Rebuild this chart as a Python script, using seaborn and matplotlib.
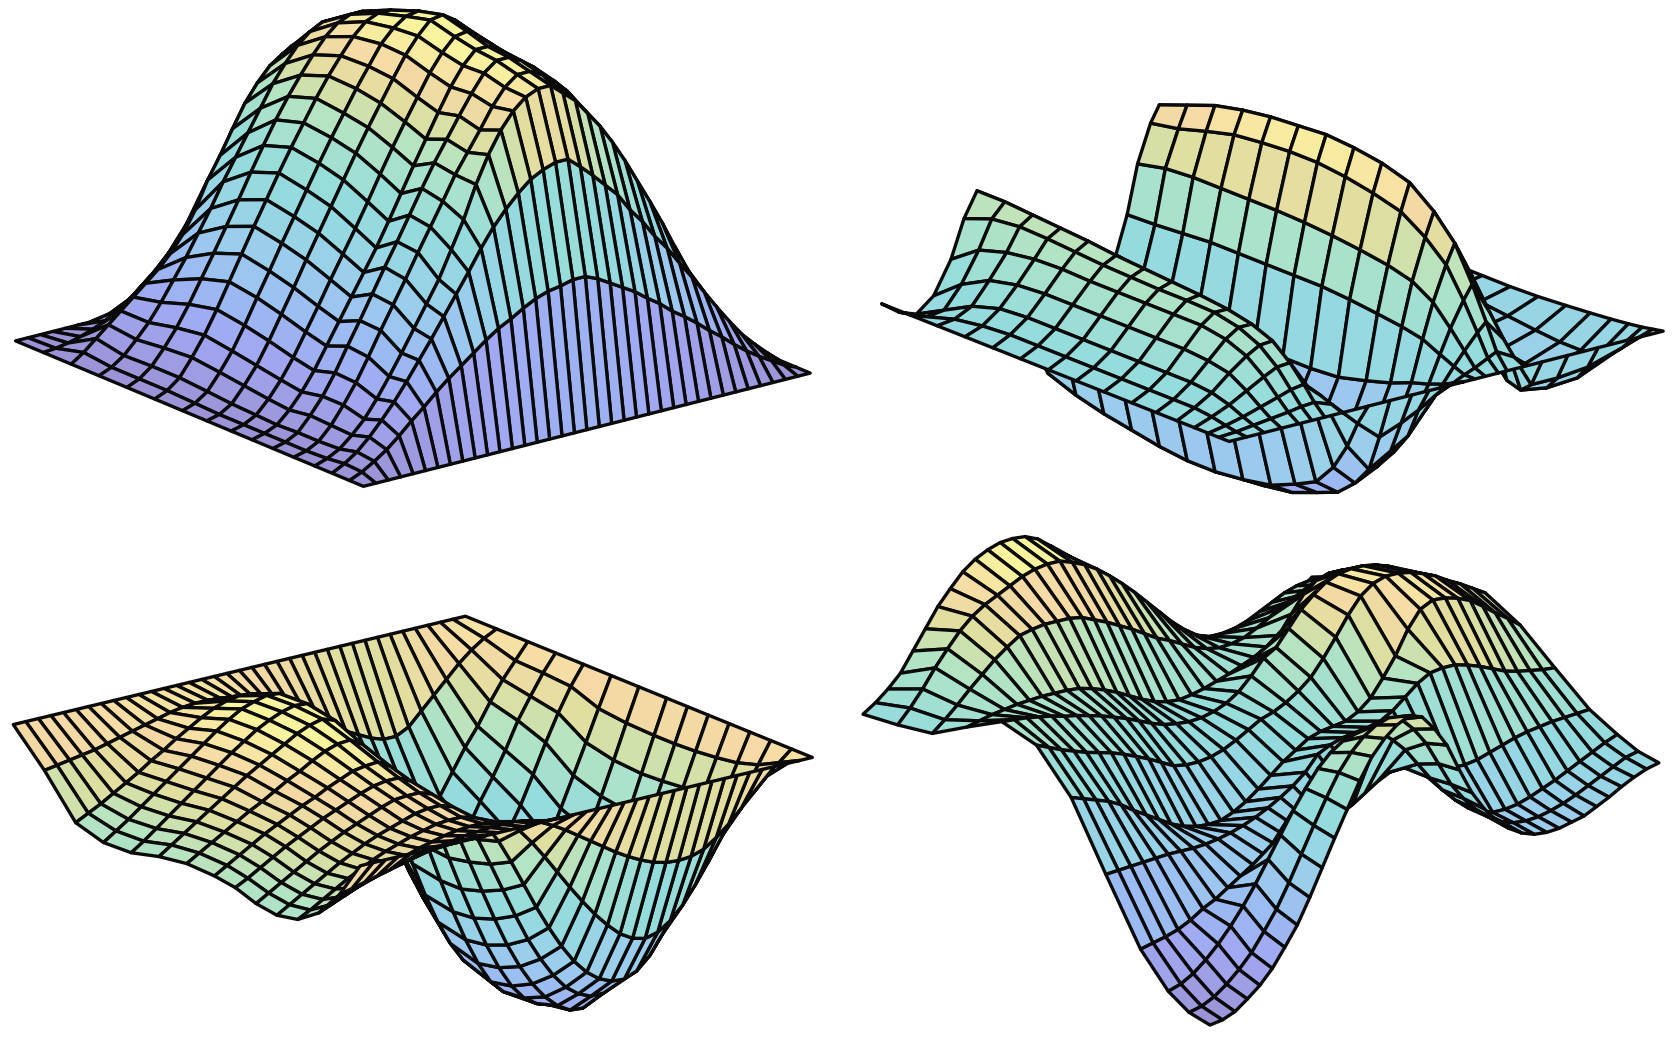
import numpy as np
import matplotlib
matplotlib.use("Agg")
import matplotlib.pyplot as plt
import seaborn as sns
from matplotlib.colors import Normalize
from mpl_toolkits.mplot3d import proj3d

# heights are read off the picture, in screen pixels of the 1568 wide view
# every surface is z[u][v], u runs from the front corner to the left, v to the right
v_36 = [k / 36 for k in range(37)]

u_a = [0, .04, .09, .14, .2, .26, .32, .38, .45, .52, .6, .68, .76, .84, .92, 1]
z_a = [
    [0] * 37,
    [0,5,12,20,30,41,51,62,72,81,90,99,107,113,120,126,130,132,135,135,130,123,116,109,100,92,82,74,65,55,46,36,27,19,12,5,0],
    [0,6,14,25,38,52,68,85,102,120,138,156,175,192,206,218,228,234,238,238,228,217,205,193,176,162,145,131,114,98,81,64,48,33,21,10,0],
    [0,4,10,20,32,48,66,85,105,125,145,170,195,225,250,270,285,295,300,300,290,280,265,250,232,212,190,168,145,120,96,72,50,32,18,8,0],
    [0,3,9,21,37,55,76,98,119,140,162,183,204,226,244,262,281,296,305,305,299,290,278,262,244,223,201,177,152,128,104,82,61,43,24,12,0],
    [0,3,9,22,37,56,78,99,121,143,164,186,208,229,248,267,285,301,310,310,304,295,282,267,248,226,205,180,155,130,105,84,62,43,25,12,0],
    [0,3,8,19,33,50,70,90,110,130,150,172,195,218,240,262,283,300,312,312,306,296,283,268,248,226,205,180,155,130,105,84,62,43,25,12,0],
    [0,3,9,21,36,54,75,96,118,139,160,182,205,227,248,268,288,304,316,318,310,300,286,270,250,228,206,181,156,130,105,84,62,43,25,12,0],
    [0,3,10,24,40,60,82,104,127,149,171,193,215,236,256,276,295,310,322,324,316,305,291,274,254,232,209,184,158,132,107,85,63,44,25,12,0],
    [0,4,12,27,44,65,88,110,133,155,177,199,220,240,260,278,296,308,316,318,312,301,288,272,252,230,207,182,156,131,106,84,62,43,25,12,0],
    [0,5,14,30,48,69,92,115,138,160,182,203,223,243,261,277,292,303,308,308,302,292,279,263,245,224,202,178,153,128,104,82,61,43,25,12,0],
    [0,5,14,28,44,63,84,105,127,149,172,194,215,234,251,267,281,291,296,296,290,280,268,253,236,216,195,172,148,124,100,79,59,41,24,12,0],
    [0,5,13,25,38,54,72,90,110,130,152,172,192,212,232,248,262,272,278,278,272,263,251,237,221,202,182,161,139,116,94,74,55,39,22,11,0],
    [0,8,18,28,38,48,58,68,80,95,115,140,160,182,203,219,232,240,245,245,240,232,221,209,195,178,160,142,122,102,83,65,49,34,20,10,0],
    [0,1,3,6,10,15,22,30,40,50,62,75,90,108,125,145,165,190,205,220,228,232,228,215,198,178,158,136,115,94,74,56,41,28,16,8,0],
    [0] * 37,
]

# this one is typed with one row per v
u_b = [0, .03, .06, .1, .15, .21, .28, .36, .44, .52, .6, .68, .76, .84, .92, 1]
v_b = [0, .04, .08, .12, .16, .19, .22, .26, .32, .37, .42, .46, .5, .54, .566, .59, .62, .64, .68, .72, .78, .85, .93, 1]
z_b_by_v = [
    [0] * 16,
    [0,1,3,6,8,8,8,8,8,8,8,8,6,2,-6,-12],
    [0,3,7,13,18,20,20,20,20,20,20,20,18,10,-4,-18],
    [0,5,12,22,32,36,38,38,38,38,38,38,36,30,16,-5],
    [0,7,17,31,44,52,56,56,56,56,56,57,56,52,44,25],
    [0,9,21,37,51,60,65,66,66,67,68,70,72,73,70,60],
    [0,10,23,38,52,60,65,68,70,72,74,77,79,81,83,83],
    [0,4,8,12,10,5,5,5,5,5,8,10,12,15,18,25],
    [0,-20,-45,-70,-90,-100,-110,-115,-118,-118,-115,-110,-105,-98,-88,-50],
    [0,-38,-72,-90,-105,-113,-122,-126,-128,-126,-122,-115,-110,-102,-90,-55],
    [0,-30,-60,-80,-95,-100,-105,-105,-103,-100,-95,-90,-85,-78,-65,-45],
    [0,-22,-50,-70,-85,-92,-98,-100,-100,-98,-95,-90,-85,-78,-65,-40],
    [0,-12,-30,-45,-58,-68,-75,-80,-80,-78,-72,-65,-58,-50,-35,-30],
    [0,-5,-10,-15,-20,-28,-35,-42,-44,-44,-40,-32,-25,-18,-14,-10],
    [0,0,4,10,18,22,25,28,30,30,30,30,30,28,26,25],
    [0,4,16,32,50,62,68,72,75,77,78,78,78,78,76,70],
    [0,10,30,55,82,100,115,122,127,130,130,128,125,118,110,105],
    [0,14,38,68,100,122,140,148,152,154,152,150,146,140,130,120],
    [0,5,18,38,65,90,112,125,132,136,136,134,130,124,112,100],
    [0,-25,-34,-30,-10,18,45,62,75,85,88,85,80,75,65,50],
    [0,-25,-38,-42,-38,-25,-12,-5,0,5,5,0,-5,-10,-15,-20],
    [0,-22,-36,-42,-45,-42,-38,-32,-28,-25,-25,-25,-25,-25,-25,-25],
    [0,-12,-22,-28,-30,-30,-28,-25,-22,-20,-20,-20,-20,-20,-20,-20],
    [0,-2,-4,-6,-8,-10,-12,-14,-15,-15,-15,-15,-15,-15,-15,-15],
]

u_c = [0, .06, .12, .18, .24, .3, .36, .42, .5, .58, .66, .74, .82, .91, 1]
z_c = [
    [0] * 37,
    [-35,-32,-29,-26,-23,-20,-17,-14,-12,-10,-8,-7,-6,-6,-6,-8,-12,-18,-25,-33,-41,-49,-57,-64,-70,-75,-78,-79,-78,-74,-66,-56,-44,-32,-20,-10,0],
    [-60,-55,-50,-45,-40,-35,-30,-26,-22,-19,-16,-14,-13,-13,-14,-18,-28,-42,-58,-75,-92,-108,-123,-136,-147,-154,-157,-154,-146,-134,-118,-100,-80,-60,-40,-20,0],
    [-74,-68,-61,-54,-47,-41,-35,-30,-26,-22,-19,-16,-15,-15,-18,-28,-46,-68,-92,-116,-138,-158,-175,-188,-197,-202,-203,-198,-187,-170,-150,-128,-104,-78,-52,-26,0],
    [-78,-71,-64,-57,-50,-43,-37,-31,-26,-22,-18,-14,-12,-12,-16,-30,-52,-78,-105,-132,-157,-178,-196,-210,-219,-224,-224,-218,-206,-189,-167,-143,-116,-87,-58,-29,0],
    [-75,-68,-61,-54,-47,-40,-34,-28,-23,-18,-13,-9,-8,-8,-12,-28,-54,-84,-114,-143,-170,-193,-212,-227,-238,-245,-246,-240,-228,-209,-184,-156,-126,-94,-62,-31,0],
    [-68,-62,-55,-48,-41,-35,-29,-23,-18,-13,-8,-4,-2,-2,-8,-26,-55,-88,-120,-150,-178,-202,-222,-236,-244,-248,-248,-243,-232,-213,-188,-159,-128,-96,-64,-32,0],
    [-65,-58,-51,-44,-37,-31,-25,-19,-14,-8,-3,2,4,5,-2,-22,-52,-86,-120,-152,-181,-206,-226,-238,-245,-248,-248,-243,-232,-214,-190,-161,-130,-98,-65,-32,0],
    [-64,-57,-50,-43,-36,-29,-23,-16,-9,-3,4,10,14,15,8,-10,-45,-80,-115,-147,-175,-198,-216,-228,-235,-238,-238,-234,-222,-205,-181,-153,-124,-94,-63,-31,0],
    [-68,-60,-52,-44,-36,-28,-20,-12,-5,2,9,16,21,24,20,6,-20,-50,-82,-112,-140,-165,-187,-205,-215,-220,-220,-215,-203,-187,-165,-140,-113,-85,-57,-28,0],
    [-75,-67,-58,-49,-40,-31,-22,-13,-4,4,12,18,23,26,25,15,-2,-22,-46,-70,-95,-120,-142,-162,-177,-188,-194,-192,-185,-165,-140,-118,-92,-65,-40,-18,0],
    [-76,-68,-60,-51,-42,-33,-24,-15,-6,3,11,18,22,25,24,16,4,-12,-30,-50,-72,-94,-115,-134,-150,-162,-170,-170,-162,-145,-122,-102,-80,-55,-35,-16,0],
    [-68,-62,-56,-49,-42,-35,-27,-20,-12,-5,2,8,12,14,13,8,0,-10,-22,-35,-50,-65,-80,-95,-110,-122,-132,-140,-138,-125,-105,-85,-68,-48,-30,-15,0],
    [-31,-29,-27,-25,-23,-20,-17,-14,-11,-8,-5,-3,-2,-2,-3,-5,-9,-14,-20,-27,-34,-41,-48,-55,-62,-68,-74,-78,-78,-72,-60,-48,-36,-24,-14,-6,0],
    [0] * 37,
]

u_d = [0, .06, .12, .2, .3, .4, .5, .6, .7, .8, .9, 1]
z_d = [
    [-159,-157,-152,-143,-133,-120,-103,-85,-62,-37,-12,12,36,56,70,80,86,82,68,50,24,0,-18,-32,-42,-49,-53,-54,-53,-50,-47,-41,-35,-28,-22,-17,-14],
    [-155,-152,-146,-137,-126,-113,-96,-78,-56,-32,-8,15,36,52,64,72,76,72,60,44,22,0,-16,-29,-39,-46,-50,-51,-50,-47,-43,-38,-32,-26,-20,-14,-11],
    [-143,-139,-132,-122,-110,-96,-80,-62,-42,-22,-2,16,32,44,52,56,56,52,42,30,14,-2,-16,-28,-38,-44,-48,-48,-46,-42,-37,-32,-26,-20,-14,-8,-3],
    [-114,-111,-108,-104,-98,-90,-84,-76,-68,-60,-54,-48,-44,-40,-38,-36,-32,-26,-18,-10,-4,-2,-4,-8,-12,-14,-14,-12,-8,-4,0,3,5,7,8,9,10],
    [-57,-56,-55,-54,-53,-52,-52,-52,-51,-49,-46,-42,-37,-31,-24,-16,-6,8,14,18,20,22,25,32,42,52,59,61,61,58,54,49,44,41,39,37,36],
    [2,-2,-6,-10,-16,-24,-31,-38,-45,-50,-53,-54,-53,-48,-41,-32,-22,-12,-4,4,8,10,12,18,28,44,62,84,100,106,105,102,97,89,80,72,63],
    [38,33,28,24,20,17,14,10,5,0,-6,-12,-14,-14,-12,-8,-2,5,12,16,22,30,40,55,72,90,105,114,118,118,116,112,107,100,94,87,80],
    [47,46,45,43,41,38,36,33,30,26,22,17,12,8,6,5,6,9,14,22,34,48,55,70,85,96,105,110,112,112,110,106,100,94,88,82,75],
    [29,32,35,37,39,40,41,41,41,40,37,33,28,22,16,11,8,7,9,12,16,20,25,30,37,45,62,78,88,92,92,90,84,80,75,70,67],
    [10,20,31,43,54,65,74,82,85,87,87,87,85,80,75,69,63,56,49,44,38,32,28,26,27,30,36,43,50,54,57,59,60,61,61,60,60],
    [5,18,33,50,65,79,90,98,104,110,116,120,122,122,118,113,106,97,87,76,64,52,40,30,22,18,18,20,24,30,36,42,46,48,48,46,44],
    [2,10,20,32,50,68,86,100,113,122,128,132,133,132,127,118,108,98,86,74,61,48,36,24,12,1,-7,-14,-17,-19,-19,-15,-9,2,11,20,30],
]

pastel_stops = ["#9b93d6", "#9f9fe6", "#a0a9f2", "#9cb8f2", "#9cc6f0", "#9ad0ea", "#96d8e2",
                "#95dcdc", "#a4e0d0", "#b4e4c2", "#dfdf9f", "#f6d9a6", "#f8f49e"]

REF_SCALE = 1676 / 1568
FIG_W, FIG_H = 1676, 1054

sns.set_theme(style="white")
cmap = sns.blend_palette(pastel_stops, as_cmap=True)


def place_panel(ax, front, right_x):
    # scale and move the axes so the front corner lands on the wanted spot
    def corner_px(x, y):
        xp, yp, _ = proj3d.proj_transform(x, y, 0, ax.get_proj())
        return ax.transData.transform((xp, yp))

    ax.apply_aspect()
    span = corner_px(1, 1)[0] - corner_px(1, 0)[0]
    side = 1000 * (right_x - front[0]) * REF_SCALE / span
    ax.set_position([0, 0, side / FIG_W, side / FIG_H])
    ax.apply_aspect()
    p = corner_px(1, 0)
    dx = front[0] * REF_SCALE - p[0]
    dy = FIG_H - front[1] * REF_SCALE - p[1]
    ax.set_position([dx / FIG_W, dy / FIG_H, side / FIG_W, side / FIG_H])


def draw_surface(fig, u, v, z, vmin, vmax, front, right_x, elev, azim):
    for row in z:
        assert len(row) == len(v), row
    z = np.array(z, dtype=float)
    assert z.shape[0] == len(u)
    yy, uu = np.meshgrid(v, u)
    xx = 1 - uu

    # one z unit should come out as one reference pixel on screen
    edge_px = (right_x - front[0]) / np.cos(np.radians(azim))
    z_box = (z.max() - z.min()) / (edge_px * np.cos(np.radians(elev)))

    ax = fig.add_axes([0, 0, 1000 / FIG_W, 1000 / FIG_H], projection="3d")
    ax.set_proj_type("ortho")
    ax.view_init(elev=elev, azim=azim)
    ax.set_xlim(0, 1, view_margin=0)
    ax.set_ylim(0, 1, view_margin=0)
    ax.set_zlim(z.min(), z.max(), view_margin=0)
    ax.set_box_aspect((1, 1, z_box))
    ax.set_axis_off()
    ax.set_facecolor("none")

    cells = (z[:-1, :-1] + z[1:, :-1] + z[:-1, 1:] + z[1:, 1:]) / 4
    colors = cmap(Normalize(vmin, vmax)(cells))
    surf = ax.plot_surface(xx, yy, z, rstride=1, cstride=1, facecolors=colors, shade=False)
    surf.set_edgecolor("#0a0a0a")
    surf.set_linewidth(2.4)
    surf.set_clip_on(False)
    place_panel(ax, front, right_x)
    return ax


def main():
    fig = plt.figure(figsize=(FIG_W / 100, FIG_H / 100), dpi=100, facecolor="white")
    draw_surface(fig, u_a, v_36, z_a, 0, 310, (340, 455), 758, 19, -37.9)
    draw_surface(fig, u_b, v_b, np.array(z_b_by_v).T.tolist(), -170, 150, (1150, 413), 1556, 18.5, -38.7)
    draw_surface(fig, u_c, v_36, z_c, -300, 15, (337, 810), 760, 18.2, -37.5)
    draw_surface(fig, u_d, v_36, z_d, -159, 125, (1132, 800), 1552, 18, -37.7)
    fig.savefig("out.png", dpi=100)
    plt.close(fig)


if __name__ == "__main__":
    main()
